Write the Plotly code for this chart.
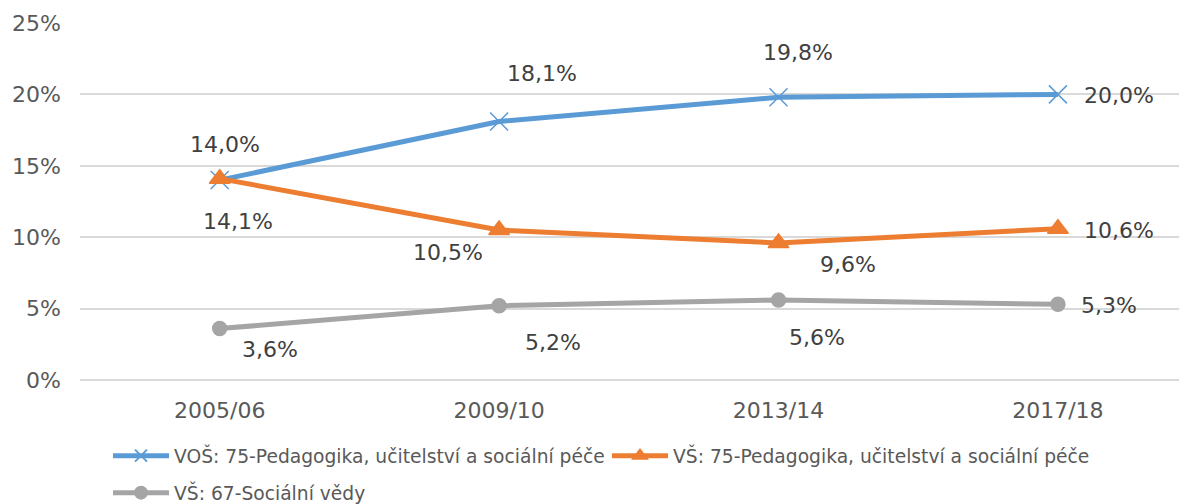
import plotly.graph_objects as go

categories = ["2005/06", "2009/10", "2013/14", "2017/18"]
vos_75 = [0.140, 0.181, 0.198, 0.200]
vs_75 = [0.141, 0.105, 0.096, 0.106]
vs_67 = [0.036, 0.052, 0.056, 0.053]
y_ticks = [0, 0.05, 0.10, 0.15, 0.20, 0.25]
y_tick_labels = ["0%", "5%", "10%", "15%", "20%", "25%"]

names = ["VOŠ: 75-Pedagogika, učitelství a sociální péče",
         "VŠ: 75-Pedagogika, učitelství a sociální péče",
         "VŠ: 67-Sociální vědy"]
colors = ["#5B9BD5", "#ED7D31", "#A5A5A5"]
symbols = ["x-thin", "triangle-up", "circle"]
msizes = [18, 18, 14]
legend_ids = ["legend", "legend", "legend2"]
series = [vos_75, vs_75, vs_67]

# label offsets (pixels) per series/point
offsets = [
    [(5, 36), (43, 48), (19, 45), (61, -1)],
    [(18, -43), (-51, -22), (69, -22), (61, -2)],
    [(50, -21), (54, -37), (38, -37), (51, -1)],
]

FONT = "DejaVu Sans"
W, H = 1179, 496  # page body has an 8px default margin

fig = go.Figure()
for name, col, sym, ms, vals, lg in zip(names, colors, symbols, msizes, series, legend_ids):
    fig.add_trace(go.Scatter(
        x=categories, y=vals, name=name, mode="lines+markers",
        line=dict(color=col, width=5),
        marker=dict(symbol=sym, size=ms, color=col,
                    line=dict(color=col, width=1.5)),
        legend=lg,
    ))

annotations = []
for vals, offs in zip(series, offsets):
    for cat, v, (dx, dy) in zip(categories, vals, offs):
        annotations.append(dict(
            x=cat, y=v, xref="x", yref="y",
            text=f"{v*100:.1f}%".replace(".", ","),
            showarrow=False, xshift=dx, yshift=dy,
            font=dict(family=FONT, size=22, color="#404040"),
        ))

legend_style = dict(orientation="h", xanchor="left", yanchor="middle",
                    xref="container", yref="container",
                    font=dict(family=FONT, size=18.7, color="#595959"),
                    itemwidth=56, tracegroupgap=0, itemsizing="constant",
                    entrywidth=428, entrywidthmode="pixels",
                    bgcolor="rgba(0,0,0,0)")

fig.update_layout(
    width=W, height=H,
    margin=dict(l=72, r=0, t=15, b=124),
    paper_bgcolor="white", plot_bgcolor="white",
    font=dict(family=FONT, size=19, color="#595959"),
    annotations=annotations,
    showlegend=True,
    legend=dict(x=100 / W, y=(H - 448) / H, **legend_style),
    legend2=dict(x=100 / W, y=(H - 485) / H, **legend_style),
    xaxis=dict(type="category", range=[-0.5, 3.462], showgrid=False,
               showline=False, zeroline=False, ticks="", automargin=False,
               ticklabelstandoff=15,
               tickfont=dict(family=FONT, size=22, color="#595959")),
    yaxis=dict(range=[0, 0.25], tickvals=y_ticks, ticktext=y_tick_labels,
               showgrid=True, gridcolor="#D9D9D9", gridwidth=2,
               zeroline=True, zerolinecolor="#D9D9D9", zerolinewidth=2,
               showline=False, ticks="", ticklabelstandoff=18, automargin=False,
               tickfont=dict(family=FONT, size=22, color="#595959")),
)

fig.write_html("out.html")
